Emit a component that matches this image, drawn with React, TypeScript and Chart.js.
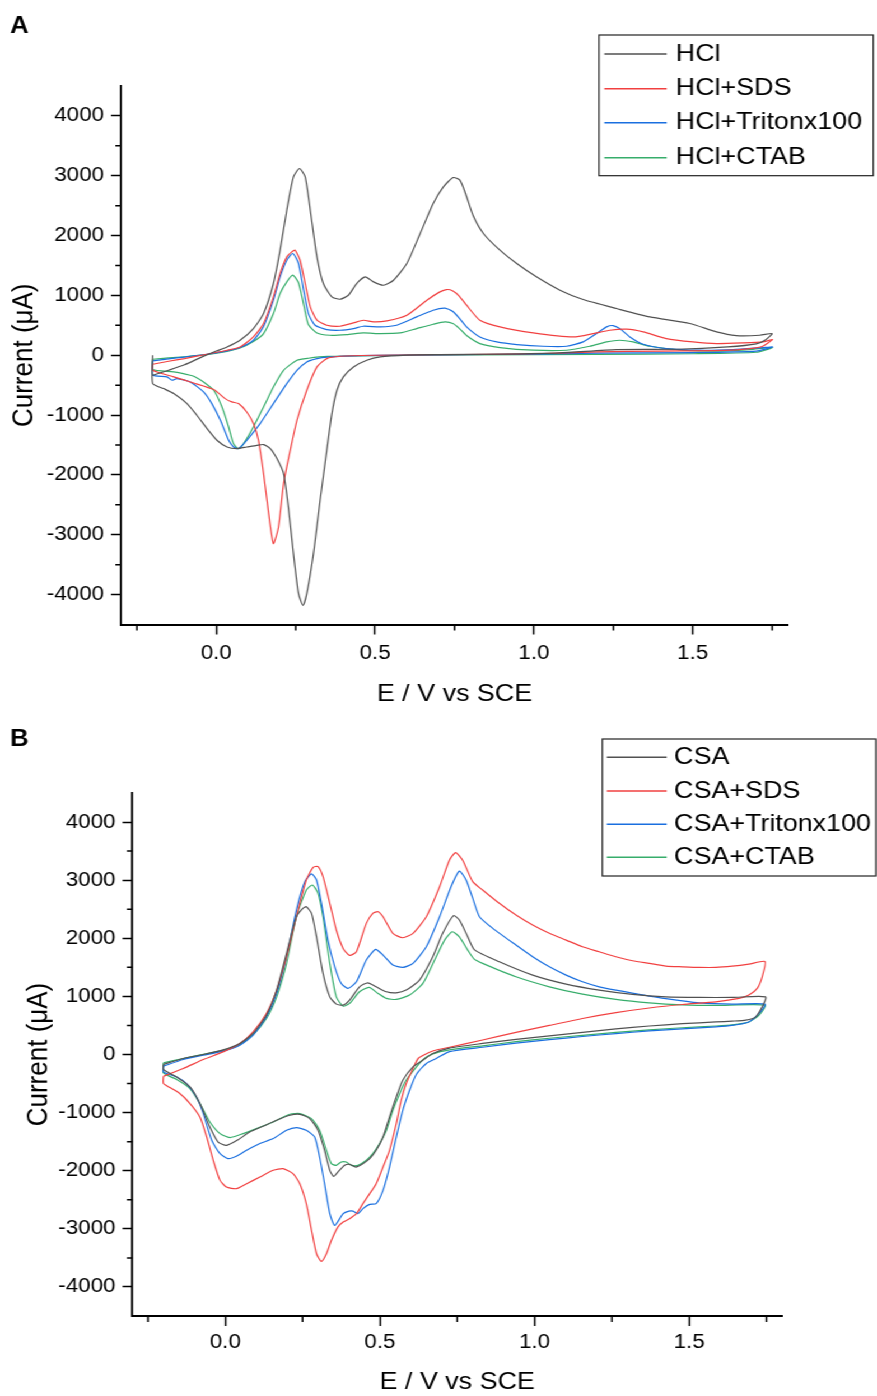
import React, { useEffect, useRef } from "react";
import { Chart, registerables } from "chart.js";

Chart.register(...registerables);

// ---------------- data ----------------
const E_MIN = -0.3;
const E_MAX = 1.8;
const I_MIN = -4500;
const I_MAX = 4500;
const X_MAJOR = [0, 0.5, 1.0, 1.5];
const X_MINOR = [-0.25, 0.25, 0.75, 1.25, 1.75];
const Y_MAJOR = [-4000, -3000, -2000, -1000, 0, 1000, 2000, 3000, 4000];
const Y_MINOR = [-3500, -2500, -1500, -500, 500, 1500, 2500, 3500];

const X_TITLE = "E / V vs SCE";
const Y_TITLE = "Current (\u03bcA)";

const LABELS_A = ["HCl", "HCl+SDS", "HCl+Tritonx100", "HCl+CTAB"];
const LABELS_B = ["CSA", "CSA+SDS", "CSA+Tritonx100", "CSA+CTAB"];
const COLORS = ["#515151", "#F14040", "#1A6FDF", "#37AD6B"];

// Panel A: [E (V), I (uA)] along the cyclic sweep
const HCL: [number, number][] = [
  [-0.2, -334], [-0.15, -250], [-0.1, -160], [-0.05, -40], [0.0, 70], [0.034, 139], [0.075, 251], [0.117, 446], [0.149, 697], [0.18, 1199], [0.201, 1756], [0.222, 2424], [0.243, 2981], [0.262, 3121], [0.28, 2981], [0.296, 2424], [0.317, 1644], [0.337, 1199], [0.364, 975], [0.39, 936], [0.416, 1003], [0.442, 1199], [0.469, 1310], [0.495, 1226], [0.526, 1170], [0.558, 1254], [0.6, 1533], [0.642, 2035], [0.683, 2536], [0.715, 2814], [0.746, 2970], [0.767, 2926], [0.785, 2700], [0.809, 2330], [0.841, 2035], [0.893, 1756], [0.946, 1533], [1.008, 1310], [1.082, 1087], [1.155, 931], [1.26, 781], [1.365, 640], [1.491, 530], [1.575, 390], [1.637, 329], [1.711, 334], [1.75, 362],
  [1.73, 260], [1.7, 190], [1.61, 139], [1.45, 100], [1.26, 95], [1.08, 40], [0.9, 20], [0.7, 10], [0.6, 2], [0.516, -28], [0.474, -84], [0.432, -195], [0.4, -362], [0.38, -585], [0.364, -975], [0.348, -1588], [0.327, -2424], [0.306, -3316], [0.285, -3985], [0.273, -4180], [0.259, -3985], [0.243, -3316], [0.227, -2537], [0.212, -1978], [0.191, -1727], [0.17, -1560], [0.149, -1493], [0.128, -1505], [0.096, -1533], [0.065, -1560], [0.034, -1533], [0.002, -1421], [-0.029, -1226], [-0.061, -1003], [-0.092, -808], [-0.134, -640], [-0.166, -557], [-0.2, -474], [-0.2, 0],
];
const HCL_SDS: [number, number][] = [
  [-0.2, -150], [-0.15, -100], [-0.1, -55], [-0.03, 17], [0.034, 84], [0.075, 139], [0.117, 306], [0.149, 530], [0.18, 975], [0.201, 1366], [0.222, 1644], [0.238, 1727], [0.248, 1756], [0.264, 1588], [0.28, 1199], [0.296, 808], [0.317, 585], [0.348, 502], [0.39, 485], [0.432, 540], [0.463, 585], [0.495, 557], [0.537, 574], [0.6, 669], [0.663, 920], [0.704, 1059], [0.725, 1098], [0.745, 1075], [0.765, 990], [0.788, 836], [0.83, 585], [0.893, 474], [0.998, 373], [1.124, 306], [1.187, 362], [1.239, 418], [1.292, 435], [1.344, 390], [1.417, 279], [1.501, 223], [1.575, 195], [1.658, 206], [1.721, 223], [1.751, 262],
  [1.72, 150], [1.68, 110], [1.6, 80], [1.4, 70], [1.2, 55], [1.0, 25], [0.7, 8], [0.5, 0], [0.39, -17], [0.348, -56], [0.317, -195], [0.285, -585], [0.254, -1087], [0.233, -1588], [0.212, -2145], [0.196, -2870], [0.18, -3148], [0.165, -2647], [0.149, -1978], [0.133, -1421], [0.117, -1142], [0.096, -948], [0.07, -808], [0.049, -780], [0.028, -725], [-0.008, -574], [-0.071, -463], [-0.134, -362], [-0.2, -251], [-0.2, -150],
];
const HCL_TRITON: [number, number][] = [
  [-0.2, -95], [-0.15, -60], [-0.1, -30], [-0.03, 17], [0.034, 73], [0.075, 130], [0.117, 251], [0.149, 480], [0.18, 920], [0.201, 1310], [0.222, 1588], [0.241, 1700], [0.259, 1533], [0.275, 1087], [0.29, 697], [0.311, 502], [0.348, 429], [0.39, 418], [0.432, 446], [0.463, 485], [0.516, 474], [0.568, 502], [0.631, 641], [0.683, 752], [0.72, 786], [0.745, 730], [0.765, 620], [0.788, 474], [0.83, 306], [0.883, 223], [0.946, 179], [1.029, 150], [1.103, 150], [1.155, 223], [1.197, 362], [1.229, 474], [1.249, 496], [1.27, 446], [1.302, 306], [1.344, 184], [1.417, 112], [1.522, 84], [1.627, 95], [1.721, 129], [1.751, 139],
  [1.7, 70], [1.5, 45], [1.2, 35], [1.0, 20], [0.7, 5], [0.45, -5], [0.35, -30], [0.317, -56], [0.285, -112], [0.254, -251], [0.222, -474], [0.18, -808], [0.138, -1142], [0.096, -1421], [0.07, -1560], [0.054, -1530], [0.039, -1421], [0.013, -1087], [-0.014, -808], [-0.04, -613], [-0.082, -446], [-0.124, -390], [-0.139, -418], [-0.155, -362], [-0.2, -334], [-0.2, -95],
];
const HCL_CTAB: [number, number][] = [
  [-0.2, -67], [-0.15, -45], [-0.1, -25], [-0.03, 10], [0.034, 65], [0.075, 120], [0.117, 230], [0.149, 362], [0.18, 697], [0.201, 1031], [0.222, 1226], [0.241, 1338], [0.259, 1212], [0.275, 850], [0.29, 515], [0.317, 373], [0.358, 334], [0.411, 345], [0.463, 373], [0.516, 362], [0.579, 373], [0.631, 446], [0.683, 518], [0.72, 557], [0.745, 530], [0.765, 450], [0.788, 330], [0.83, 195], [0.893, 129], [0.998, 84], [1.103, 84], [1.176, 150], [1.229, 223], [1.27, 251], [1.312, 223], [1.365, 150], [1.47, 84], [1.575, 67], [1.679, 95], [1.751, 129],
  [1.7, 50], [1.5, 25], [1.2, 15], [0.8, 5], [0.5, -5], [0.35, -20], [0.29, -50], [0.254, -84], [0.212, -251], [0.18, -530], [0.149, -864], [0.117, -1199], [0.086, -1476], [0.07, -1560], [0.054, -1476], [0.039, -1199], [0.018, -864], [-0.008, -585], [-0.04, -446], [-0.066, -362], [-0.082, -334], [-0.134, -279], [-0.2, -240], [-0.2, -67],
];

// Panel B
const CSA: [number, number][] = [
  [-0.2, -170], [-0.136, -69], [-0.071, 0], [-0.007, 80], [0.047, 190], [0.09, 362], [0.133, 677], [0.166, 1108], [0.198, 1740], [0.23, 2371], [0.251, 2515], [0.262, 2543], [0.279, 2429], [0.295, 2026], [0.316, 1395], [0.338, 992], [0.359, 867], [0.381, 849], [0.402, 936], [0.434, 1165], [0.461, 1234], [0.488, 1165], [0.521, 1079], [0.553, 1061], [0.585, 1108], [0.628, 1280], [0.671, 1682], [0.703, 2085], [0.738, 2390], [0.757, 2314], [0.784, 2026], [0.806, 1800], [0.886, 1596], [0.994, 1366], [1.102, 1211], [1.209, 1108], [1.317, 1034], [1.425, 992], [1.532, 982], [1.639, 982], [1.747, 992],
  [1.736, 820], [1.715, 648], [1.683, 591], [1.639, 574], [1.586, 560], [1.478, 530], [1.371, 490], [1.263, 440], [1.155, 380], [1.048, 320], [0.94, 260], [0.832, 190], [0.725, 110], [0.671, 17], [0.639, -98], [0.607, -214], [0.574, -443], [0.553, -731], [0.531, -1075], [0.51, -1420], [0.488, -1649], [0.467, -1792], [0.445, -1878], [0.422, -1937], [0.402, -1890], [0.386, -1907], [0.364, -2023], [0.35, -2097], [0.338, -1993], [0.321, -1649], [0.3, -1304], [0.273, -1103], [0.241, -1029], [0.209, -1046], [0.166, -1132], [0.122, -1235], [0.079, -1334], [0.042, -1465], [0.004, -1563], [-0.023, -1506], [-0.05, -1247], [-0.082, -844], [-0.114, -558], [-0.157, -386], [-0.2, -258], [-0.2, -170],
];
const CSA_SDS: [number, number][] = [
  [-0.2, -374], [-0.136, -241], [-0.071, -86], [-0.007, 45], [0.047, 190], [0.09, 390], [0.133, 706], [0.166, 1108], [0.198, 1682], [0.23, 2371], [0.262, 3003], [0.284, 3222], [0.3, 3233], [0.316, 3060], [0.338, 2602], [0.359, 2142], [0.381, 1826], [0.402, 1706], [0.424, 1768], [0.456, 2257], [0.477, 2429], [0.494, 2457], [0.51, 2371], [0.542, 2085], [0.574, 2009], [0.607, 2085], [0.65, 2371], [0.693, 2888], [0.725, 3348], [0.745, 3474], [0.768, 3340], [0.8, 2974], [0.832, 2831], [0.886, 2602], [0.94, 2400], [0.994, 2228], [1.048, 2085], [1.102, 1969], [1.155, 1854], [1.209, 1768], [1.263, 1682], [1.317, 1613], [1.371, 1568], [1.425, 1521], [1.478, 1509], [1.532, 1499], [1.586, 1499], [1.639, 1521], [1.693, 1556], [1.745, 1600],
  [1.736, 1337], [1.72, 1137], [1.693, 1022], [1.661, 965], [1.586, 906], [1.478, 860], [1.371, 800], [1.263, 720], [1.155, 620], [1.048, 500], [0.94, 380], [0.832, 250], [0.725, 125], [0.671, 60], [0.625, -60], [0.607, -240], [0.585, -500], [0.569, -787], [0.553, -1189], [0.531, -1649], [0.51, -1937], [0.488, -2223], [0.467, -2395], [0.445, -2567], [0.424, -2740], [0.402, -2826], [0.381, -2884], [0.364, -2970], [0.343, -3200], [0.327, -3429], [0.311, -3561], [0.295, -3429], [0.279, -3027], [0.262, -2567], [0.241, -2223], [0.219, -2050], [0.187, -1964], [0.155, -1993], [0.112, -2109], [0.069, -2223], [0.036, -2309], [0.004, -2281], [-0.017, -2166], [-0.039, -1821], [-0.06, -1420], [-0.082, -1075], [-0.114, -844], [-0.147, -672], [-0.179, -569], [-0.2, -500], [-0.2, -374],
];
const CSA_TRITON: [number, number][] = [
  [-0.2, -201], [-0.136, -86], [-0.071, -12], [-0.007, 57], [0.047, 160], [0.09, 333], [0.133, 648], [0.166, 1051], [0.198, 1682], [0.23, 2486], [0.257, 2974], [0.279, 3107], [0.295, 3003], [0.311, 2602], [0.332, 1969], [0.354, 1509], [0.375, 1223], [0.397, 1137], [0.424, 1251], [0.456, 1625], [0.486, 1809], [0.51, 1711], [0.542, 1539], [0.574, 1499], [0.607, 1568], [0.65, 1854], [0.693, 2371], [0.73, 2888], [0.757, 3155], [0.779, 3000], [0.8, 2690], [0.822, 2371], [0.865, 2171], [0.94, 1883], [0.994, 1682], [1.048, 1509], [1.102, 1366], [1.155, 1251], [1.209, 1165], [1.263, 1108], [1.371, 1005], [1.478, 924], [1.532, 889], [1.639, 867], [1.745, 867],
  [1.726, 706], [1.693, 560], [1.639, 500], [1.586, 475], [1.478, 440], [1.371, 405], [1.263, 360], [1.155, 310], [1.048, 255], [0.94, 195], [0.832, 125], [0.725, 50], [0.682, -69], [0.65, -155], [0.618, -340], [0.596, -615], [0.574, -960], [0.553, -1420], [0.531, -1937], [0.51, -2338], [0.488, -2567], [0.467, -2579], [0.445, -2653], [0.429, -2740], [0.413, -2695], [0.4, -2695], [0.381, -2740], [0.354, -2941], [0.338, -2740], [0.321, -2223], [0.305, -1764], [0.289, -1420], [0.262, -1304], [0.23, -1258], [0.198, -1304], [0.155, -1447], [0.112, -1533], [0.069, -1649], [0.036, -1752], [0.009, -1792], [-0.017, -1706], [-0.044, -1477], [-0.071, -1017], [-0.093, -731], [-0.125, -500], [-0.157, -386], [-0.2, -300], [-0.2, -201],
];
const CSA_CTAB: [number, number][] = [
  [-0.2, -144], [-0.136, -69], [-0.071, 5], [-0.007, 70], [0.047, 170], [0.09, 340], [0.133, 620], [0.166, 992], [0.198, 1567], [0.23, 2371], [0.262, 2831], [0.282, 2917], [0.3, 2774], [0.316, 2371], [0.338, 1568], [0.359, 992], [0.381, 832], [0.402, 879], [0.434, 1079], [0.465, 1154], [0.494, 1051], [0.521, 965], [0.553, 948], [0.596, 1022], [0.639, 1223], [0.682, 1682], [0.709, 1969], [0.734, 2112], [0.757, 2026], [0.784, 1797], [0.805, 1640], [0.832, 1568], [0.94, 1337], [1.048, 1165], [1.155, 1039], [1.263, 948], [1.371, 889], [1.478, 855], [1.586, 844], [1.745, 849],
  [1.726, 677], [1.693, 560], [1.639, 510], [1.586, 490], [1.478, 460], [1.371, 425], [1.263, 380], [1.155, 330], [1.048, 280], [0.94, 220], [0.832, 150], [0.725, 80], [0.671, 10], [0.639, -90], [0.618, -214], [0.585, -443], [0.564, -672], [0.542, -960], [0.521, -1304], [0.499, -1533], [0.477, -1706], [0.456, -1821], [0.429, -1907], [0.408, -1907], [0.391, -1850], [0.375, -1850], [0.359, -1907], [0.343, -1878], [0.327, -1649], [0.305, -1304], [0.279, -1103], [0.241, -1017], [0.209, -1029], [0.155, -1161], [0.101, -1275], [0.058, -1361], [0.015, -1430], [-0.017, -1361], [-0.05, -1161], [-0.082, -844], [-0.114, -586], [-0.157, -431], [-0.2, -317], [-0.2, -144],
];

// ---------------- layout ----------------
const SX = 1.12; // horizontal stretch of the original figure
const PAGE_W = 877;
const PAGE_H = 1396;
const CANVAS_W = Math.round(PAGE_W / SX);
const FONT = '"Liberation Sans", Arial, Helvetica, sans-serif';

type Panel = {
  top: number;
  height: number;
  plotLeft: number;
  plotRight: number;
  plotTop: number;
  plotBottom: number;
  xTickPad: number;
  xTitlePadBottom: number;
  yTitlePadTop: number;
  letter: string;
  letterY: number;
  box: { x: number; y: number; w: number; h: number };
  rows: number[];
  lineX: [number, number];
  textX: number;
  labels: string[];
  series: [number, number][][];
};

const PANEL_A: Panel = {
  top: 0,
  height: 712,
  plotLeft: 108,
  plotRight: 703.6,
  plotTop: 86,
  plotBottom: 624.5,
  xTickPad: 6.5,
  xTitlePadBottom: 3.6,
  yTitlePadTop: 6.7,
  letter: "A",
  letterY: 26.5,
  box: { x: 534.8, y: 35, w: 244.9, h: 140.7 },
  rows: [54, 88.7, 122.7, 157.7],
  lineX: [539.6, 595.3],
  textX: 603.3,
  labels: LABELS_A,
  series: [HCL, HCL_SDS, HCL_TRITON, HCL_CTAB],
};

const PANEL_B: Panel = {
  top: 700,
  height: 710,
  plotLeft: 118.3,
  plotRight: 698.2,
  plotTop: 93,
  plotBottom: 616,
  xTickPad: 4.5,
  xTitlePadBottom: 13.1,
  yTitlePadTop: 18.8,
  letter: "B",
  letterY: 39.5,
  box: { x: 537.8, y: 39, w: 244.2, h: 137 },
  rows: [57.3, 91, 124.3, 157.3],
  lineX: [541.8, 595.3],
  textX: 601.8,
  labels: LABELS_B,
  series: [CSA, CSA_SDS, CSA_TRITON, CSA_CTAB],
};

function makePlugin(p: Panel) {
  return {
    id: "cvDecor" + p.letter,
    afterDraw(chart: any) {
      const { ctx } = chart;
      const xs = chart.scales.x;
      const ys = chart.scales.y;
      ctx.save();
      // minor ticks
      ctx.strokeStyle = "#000";
      ctx.lineWidth = 1.5;
      ctx.beginPath();
      for (const v of X_MINOR) {
        const px = xs.getPixelForValue(v);
        ctx.moveTo(px, xs.top);
        ctx.lineTo(px, xs.top + 6);
      }
      for (const v of Y_MINOR) {
        const py = ys.getPixelForValue(v);
        ctx.moveTo(ys.right, py);
        ctx.lineTo(ys.right - 5, py);
      }
      ctx.stroke();
      // legend box
      ctx.strokeStyle = "#222";
      ctx.lineWidth = 1.2;
      ctx.strokeRect(p.box.x, p.box.y, p.box.w, p.box.h);
      ctx.font = `24px ${FONT}`;
      ctx.textBaseline = "middle";
      ctx.textAlign = "left";
      chart.data.datasets.forEach((ds: any, i: number) => {
        const y = p.rows[i];
        ctx.strokeStyle = ds.borderColor;
        ctx.lineWidth = 1.5;
        ctx.beginPath();
        ctx.moveTo(p.lineX[0], y);
        ctx.lineTo(p.lineX[1], y);
        ctx.stroke();
        ctx.fillStyle = "#000";
        ctx.fillText(ds.label, p.textX, y);
      });
      // panel letter
      ctx.font = `bold 23px ${FONT}`;
      ctx.fillStyle = "#000";
      ctx.fillText(p.letter, 8.9, p.letterY);
      ctx.restore();
    },
  };
}

function makeConfig(p: Panel): any {
  return {
    type: "scatter",
    data: {
      datasets: p.series.map((pts, i) => ({
        label: p.labels[i],
        data: pts.map(([x, y]) => ({ x, y })),
        showLine: true,
        borderColor: COLORS[i],
        backgroundColor: COLORS[i],
        borderWidth: 1.2,
        pointRadius: 0,
        pointHoverRadius: 0,
        tension: 0.2,
        fill: false,
      })),
    },
    options: {
      animation: false,
      responsive: false,
      maintainAspectRatio: false,
      events: [],
      layout: {
        padding: { top: p.plotTop, left: 0, right: CANVAS_W - p.plotRight, bottom: 0 },
      },
      plugins: {
        legend: { display: false },
        tooltip: { enabled: false },
        title: { display: false },
      },
      scales: {
        x: {
          type: "linear",
          position: "bottom",
          min: E_MIN,
          max: E_MAX,
          afterBuildTicks: (s: any) => {
            s.ticks = X_MAJOR.map((v) => ({ value: v }));
          },
          afterFit: (s: any) => {
            s.height = p.height - p.plotBottom;
          },
          ticks: {
            autoSkip: false,
            maxRotation: 0,
            padding: p.xTickPad,
            color: "#000",
            font: { family: FONT, size: 20 },
            callback: (v: any) => Number(v).toFixed(1),
          },
          grid: {
            drawOnChartArea: false,
            drawTicks: true,
            tickLength: 10,
            tickWidth: 1.5,
            tickColor: "#000",
          },
          border: { display: true, color: "#000", width: 2 },
          title: {
            display: true,
            text: X_TITLE,
            color: "#000",
            font: { family: FONT, size: 24 },
            padding: { top: 0, bottom: p.xTitlePadBottom },
          },
        },
        y: {
          type: "linear",
          position: "left",
          min: I_MIN,
          max: I_MAX,
          afterBuildTicks: (s: any) => {
            s.ticks = Y_MAJOR.map((v) => ({ value: v }));
          },
          afterFit: (s: any) => {
            s.width = p.plotLeft;
          },
          ticks: {
            autoSkip: false,
            padding: 6.2,
            color: "#000",
            font: { family: FONT, size: 20 },
            callback: (v: any) => String(Math.round(Number(v))),
          },
          grid: {
            drawOnChartArea: false,
            drawTicks: true,
            tickLength: 8.9,
            tickWidth: 1.5,
            tickColor: "#000",
          },
          border: { display: true, color: "#000", width: 1.8 },
          title: {
            display: true,
            text: Y_TITLE,
            color: "#000",
            font: { family: FONT, size: 26 },
            padding: { top: p.yTitlePadTop, bottom: 0 },
          },
        },
      },
    },
    plugins: [makePlugin(p)],
  };
}

export default function App() {
  const refA = useRef<HTMLCanvasElement>(null);
  const refB = useRef<HTMLCanvasElement>(null);

  useEffect(() => {
    const charts: Chart[] = [];
    if (refA.current) charts.push(new Chart(refA.current, makeConfig(PANEL_A)));
    if (refB.current) charts.push(new Chart(refB.current, makeConfig(PANEL_B)));
    return () => charts.forEach((c) => c.destroy());
  }, []);

  const canvasStyle = (p: Panel): React.CSSProperties => ({
    position: "absolute",
    left: 0,
    top: p.top,
    width: CANVAS_W,
    height: p.height,
  });

  return (
    <div
      style={{
        position: "absolute",
        left: 0,
        top: 0,
        width: PAGE_W,
        height: PAGE_H,
        overflow: "hidden",
        background: "#fff",
      }}
    >
      <div
        style={{
          position: "absolute",
          left: 0,
          top: 0,
          width: CANVAS_W,
          height: PAGE_H,
          transform: `scaleX(${SX})`,
          transformOrigin: "0 0",
        }}
      >
        <canvas ref={refA} width={CANVAS_W} height={PANEL_A.height} style={canvasStyle(PANEL_A)} />
        <canvas ref={refB} width={CANVAS_W} height={PANEL_B.height} style={canvasStyle(PANEL_B)} />
      </div>
    </div>
  );
}
